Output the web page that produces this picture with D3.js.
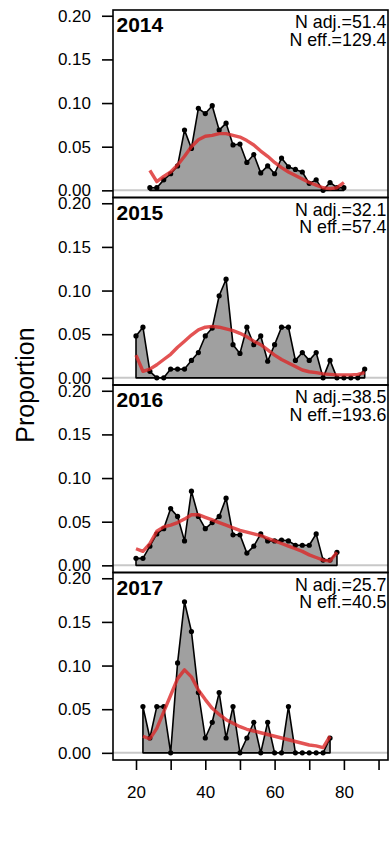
<!DOCTYPE html>
<html>
<head>
<meta charset="utf-8">
<script src="https://cdn.jsdelivr.net/npm/d3@7"></script>
<style>
  html, body { margin: 0; padding: 0; background: #fff; }
  svg { display: block; }
  text { font-family: "Liberation Sans", Arial, sans-serif; fill: #000; }
</style>
</head>
<body>
<div id="chart"></div>
<script>
// ---- data ----
const years = ["2014", "2015", "2016", "2017"];
const nAdj = ["51.4", "32.1", "38.5", "25.7"];
const nEff = ["129.4", "57.4", "193.6", "40.5"];

const len2014 = [24,26,28,30,32,34,36,38,40,42,44,46,48,50,52,54,56,58,60,62,64,66,68,70,72,74,76,78,80];
const obs2014 = [0.003,0.003,0.012,0.019,0.028,0.069,0.048,0.094,0.088,0.097,0.069,0.077,0.052,0.053,0.032,0.041,0.020,0.028,0.019,0.037,0.027,0.024,0.021,0.008,0.012,0.000,0.009,0.003,0.003];
const exp2014 = [0.023,0.010,0.016,0.021,0.029,0.039,0.050,0.058,0.062,0.063,0.065,0.065,0.063,0.061,0.057,0.052,0.045,0.039,0.032,0.026,0.021,0.017,0.013,0.009,0.006,0.003,0.002,0.003,0.009];

const len2015 = [20,22,24,26,28,30,32,34,36,38,40,42,44,46,48,50,52,54,56,58,60,62,64,66,68,70,72,74,76,78,80,82,84,86];
const obs2015 = [0.048,0.058,0.0075,0,0,0.010,0.010,0.010,0.020,0.029,0.048,0.057,0.094,0.113,0.038,0.028,0.058,0.038,0.048,0.019,0.038,0.058,0.058,0.020,0.029,0.020,0.029,0,0.020,0,0,0,0,0.010];
const exp2015 = [0.026,0.0075,0.010,0.015,0.021,0.027,0.035,0.042,0.049,0.055,0.058,0.059,0.058,0.056,0.054,0.051,0.047,0.042,0.038,0.032,0.026,0.021,0.017,0.013,0.009,0.007,0.006,0.0045,0.004,0.0034,0.0034,0.0034,0.004,0.006];

const len2016 = [20,22,24,26,28,30,32,34,36,38,40,42,44,46,48,50,52,54,56,58,60,62,64,66,68,70,72,74,76,78];
const obs2016 = [0.008,0.008,0.022,0.036,0.042,0.065,0.056,0.028,0.085,0.056,0.042,0.049,0.056,0.077,0.035,0.035,0.014,0.022,0.036,0.028,0.028,0.029,0.028,0.023,0.023,0.023,0.036,0.006,0.006,0.015];
const exp2016 = [0.019,0.016,0.025,0.039,0.044,0.046,0.049,0.053,0.058,0.058,0.055,0.052,0.049,0.046,0.043,0.040,0.038,0.036,0.034,0.031,0.028,0.025,0.022,0.019,0.016,0.012,0.009,0.006,0.005,0.015];

const len2017 = [22,24,26,28,30,32,34,36,38,40,42,44,46,48,50,52,54,56,58,60,62,64,66,68,70,72,74,76];
const obs2017 = [0.053,0.017,0.053,0.053,0,0.103,0.173,0.139,0.069,0.017,0.035,0.069,0.017,0.053,0,0.017,0.035,0,0.035,0,0,0.053,0,0,0,0,0,0.017];
const exp2017 = [0.019,0.016,0.028,0.047,0.066,0.085,0.095,0.087,0.072,0.061,0.051,0.044,0.038,0.034,0.030,0.027,0.025,0.023,0.021,0.019,0.017,0.015,0.013,0.011,0.009,0.008,0.006,0.019];

const yTicks = [0, 0.05, 0.10, 0.15, 0.20];
const xTicks = [20, 30, 40, 50, 60, 70, 80, 90];
const xLabels = [20, 40, 60, 80];
const yTitle = "Proportion";

const lengths = [len2014, len2015, len2016, len2017];
const observed = [obs2014, obs2015, obs2016, obs2017];
const expected = [exp2014, exp2015, exp2016, exp2017];

// ---- layout ----
const W = 390, H = 847;
const left = 113, right = 388, top0 = 10, panelH = 187.5;

const svg = d3.select("#chart").append("svg").attr("width", W).attr("height", H);

const x = d3.scaleLinear().domain([13.36, 92.73]).range([left, right]);

years.forEach((yr, i) => {
  const top = top0 + i * panelH;
  const y = d3.scaleLinear().domain([-0.0082, 0.2066]).range([top + panelH, top]);
  const g = svg.append("g");

  // zero reference line
  g.append("line")
    .attr("x1", left).attr("x2", right)
    .attr("y1", y(0)).attr("y2", y(0))
    .attr("stroke", "#c8c8c8").attr("stroke-width", 2);

  const pts = lengths[i].map((L, k) => [L, observed[i][k]]);
  const poly = [[lengths[i][0], 0], ...pts, [lengths[i][lengths[i].length - 1], 0]];
  const line = d3.line().x(d => x(d[0])).y(d => y(d[1]));

  g.append("path")
    .attr("d", line(poly) + "Z")
    .attr("fill", "#a0a0a0")
    .attr("stroke", "#000").attr("stroke-width", 1.6)
    .attr("stroke-linejoin", "round");

  g.selectAll("circle").data(pts).join("circle")
    .attr("cx", d => x(d[0])).attr("cy", d => y(d[1]))
    .attr("r", 2.6).attr("fill", "#000");

  const expPts = lengths[i].map((L, k) => [L, expected[i][k]]);
  g.append("path")
    .attr("d", line(expPts))
    .attr("fill", "none")
    .attr("stroke", "rgb(220,40,40)").attr("stroke-opacity", 0.8)
    .attr("stroke-width", 3.4)
    .attr("stroke-linejoin", "round").attr("stroke-linecap", "butt");

  // frame
  g.append("rect")
    .attr("x", left).attr("y", top)
    .attr("width", right - left).attr("height", panelH)
    .attr("fill", "none").attr("stroke", "#000").attr("stroke-width", 1.6);

  // y axis
  const ax = g.append("g").attr("transform", `translate(${left},0)`)
    .call(d3.axisLeft(y).tickValues(yTicks).tickFormat(d3.format(".2f")).tickSize(11).tickPadding(11));
  ax.select(".domain").remove();
  ax.selectAll(".tick line").attr("stroke", "#000").attr("stroke-width", 1.6);
  ax.selectAll(".tick text").attr("font-size", 17).attr("font-family", "Liberation Sans, Arial, sans-serif").attr("fill", "#000");

  // labels
  g.append("text").attr("x", 116.5).attr("y", top + 22)
    .attr("font-size", 21).attr("font-weight", "bold").text(yr);
  g.append("text").attr("x", 386.5).attr("y", top + 18.3)
    .attr("font-size", 17.8).attr("text-anchor", "end").text("N adj.=" + nAdj[i]);
  g.append("text").attr("x", 386.5).attr("y", top + 35.8)
    .attr("font-size", 17.8).attr("text-anchor", "end").text("N eff.=" + nEff[i]);
});

// x axis
const bottom = top0 + 4 * panelH;
const xa = svg.append("g").attr("transform", `translate(0,${bottom})`)
  .call(d3.axisBottom(x).tickValues(xTicks).tickSize(10).tickPadding(15.5)
    .tickFormat(d => xLabels.includes(d) ? String(d) : ""));
xa.select(".domain").remove();
xa.selectAll(".tick line").attr("stroke", "#000").attr("stroke-width", 1.6);
xa.selectAll(".tick text").attr("font-size", 17).attr("font-family", "Liberation Sans, Arial, sans-serif").attr("fill", "#000");

// y title
svg.append("text")
  .attr("transform", `translate(34,${top0 + 2 * panelH}) rotate(-90)`)
  .attr("text-anchor", "middle").attr("font-size", 25)
  .text(yTitle);
</script>
</body>
</html>
